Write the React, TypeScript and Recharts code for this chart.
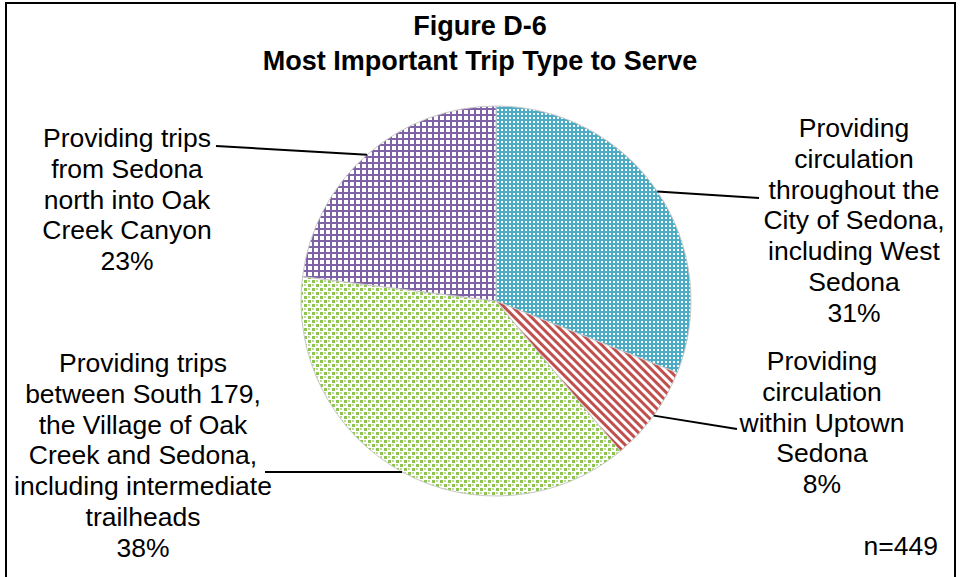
import { PieChart, Pie, Cell } from "recharts";

const categories = [
  "Providing circulation throughout the City of Sedona, including West Sedona",
  "Providing circulation within Uptown Sedona",
  "Providing trips between South 179, the Village of Oak Creek and Sedona, including intermediate trailheads",
  "Providing trips from Sedona north into Oak Creek Canyon",
];
const shares = [31, 8, 38, 23];
const labelLines = [
  ["Providing", "circulation", "throughout the", "City of Sedona,", "including West", "Sedona"],
  ["Providing", "circulation", "within Uptown", "Sedona"],
  ["Providing trips", "between South 179,", "the Village of Oak", "Creek and Sedona,", "including intermediate", "trailheads"],
  ["Providing trips", "from Sedona", "north into Oak", "Creek Canyon"],
];

const data = categories.map((name, i) => ({ name, value: shares[i] }));

const fills = ["url(#pBlue)", "url(#pRed)", "url(#pGreen)", "url(#pPurple)"];
// label block placement: text centre x, first line centre y, leader end point
const labelPos = [
  { x: 854, y: 128, lx: 759, ly: 198 },
  { x: 822, y: 361, lx: 737, ly: 429 },
  { x: 143, y: 363, lx: 265, ly: 472 },
  { x: 127, y: 138, lx: 216, ly: 146 },
];

const FONT = "'Liberation Sans', Arial, sans-serif";
const RAD = Math.PI / 180;
const LINE_H = 30.8;

const renderLabel = (props: any) => {
  const { cx, cy, outerRadius, midAngle, index, value } = props;
  const ex = cx + outerRadius * Math.cos(-midAngle * RAD);
  const ey = cy + outerRadius * Math.sin(-midAngle * RAD);
  const p = labelPos[index];
  const lines = [...labelLines[index], `${value}%`];
  return (
    <g key={`lbl-${index}`}>
      <line x1={ex} y1={ey} x2={p.lx} y2={p.ly} stroke="#000" strokeWidth={2} />
      <text
        x={p.x}
        y={p.y}
        textAnchor="middle"
        fontFamily={FONT}
        fontSize={26.5}
        fill="#000"
      >
        {lines.map((t, i) => (
          <tspan key={i} x={p.x} y={p.y + i * LINE_H + 9}>
            {t}
          </tspan>
        ))}
      </text>
    </g>
  );
};

export default function App() {
  return (
    <div
      style={{
        position: "absolute",
        left: 0,
        top: 0,
        width: 960,
        height: 577,
        background: "#fff",
        overflow: "hidden",
      }}
    >
      <PieChart width={960} height={577} margin={{ top: 0, right: 0, bottom: 0, left: 0 }}>
        <defs>
          <pattern id="pBlue" width={4} height={4} patternUnits="userSpaceOnUse">
            <rect width={4} height={4} fill="#4BACC6" />
            <rect x={1} y={1} width={2} height={2} fill="#fff" />
          </pattern>
          <pattern
            id="pRed"
            width={6}
            height={6}
            patternUnits="userSpaceOnUse"
            patternTransform="rotate(-45)"
          >
            <rect width={6} height={6} fill="#fff" />
            <rect width={3} height={6} fill="#C0504D" />
          </pattern>
          <pattern id="pGreen" width={8} height={8} patternUnits="userSpaceOnUse">
            <rect width={8} height={8} fill="#fff" />
            <rect x={0} y={0} width={3} height={3} fill="#8CC44E" />
            <rect x={4} y={4} width={3} height={3} fill="#8CC44E" />
            <rect x={4} y={0} width={2} height={2} fill="#B9DC96" />
            <rect x={0} y={4} width={2} height={2} fill="#B9DC96" />
          </pattern>
          <pattern id="pPurple" width={6} height={6} patternUnits="userSpaceOnUse">
            <rect width={6} height={6} fill="#fff" />
            <rect width={6} height={2} fill="#7F62A6" />
            <rect width={2} height={6} fill="#7F62A6" />
          </pattern>
        </defs>
        <Pie
          data={data}
          dataKey="value"
          nameKey="name"
          cx={496}
          cy={301}
          outerRadius={195}
          startAngle={90}
          endAngle={-270}
          stroke="#C8C8C8"
          strokeWidth={1}
          label={renderLabel}
          labelLine={false}
          isAnimationActive={false}
        >
          {data.map((d, i) => (
            <Cell key={d.name} fill={fills[i]} />
          ))}
        </Pie>
      </PieChart>
      <div
        style={{
          position: "absolute",
          left: 5,
          top: 2,
          width: 951,
          height: 620,
          border: "2.3px solid #000",
          boxSizing: "border-box",
          pointerEvents: "none",
        }}
      />
      <div
        style={{
          position: "absolute",
          left: 0,
          top: 9,
          width: 960,
          textAlign: "center",
          fontFamily: FONT,
          fontWeight: "bold",
          fontSize: 27,
          lineHeight: "35px",
          color: "#000",
        }}
      >
        Figure D-6
        <br />
        Most Important Trip Type to Serve
      </div>
      <div
        style={{
          position: "absolute",
          right: 22,
          top: 531,
          fontFamily: FONT,
          fontSize: 26.5,
          lineHeight: "30px",
          color: "#000",
        }}
      >
        n=449
      </div>
    </div>
  );
}
